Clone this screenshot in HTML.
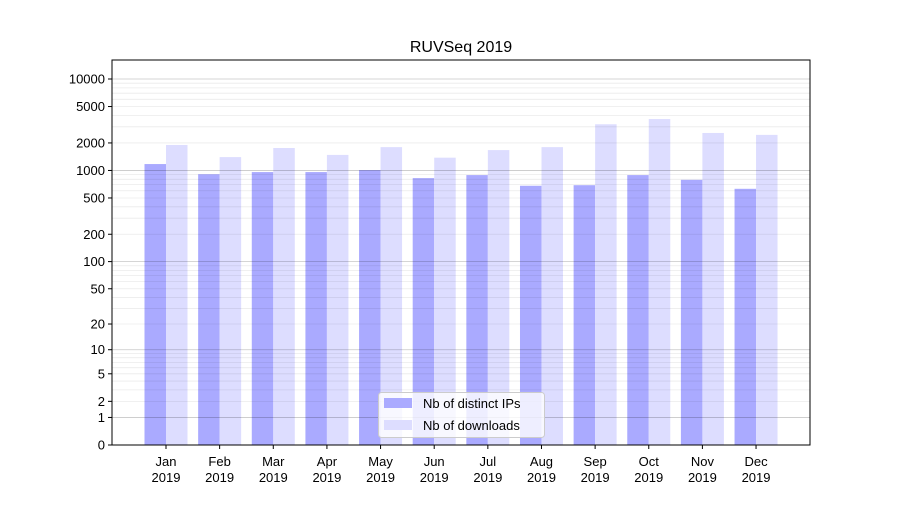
<!DOCTYPE html>
<html><head><meta charset="utf-8"><style>
body{margin:0;background:#fff;font-family:"Liberation Sans","DejaVu Sans",sans-serif}
</style></head><body>
<svg id="chart" width="900" height="500" xmlns="http://www.w3.org/2000/svg"></svg>
<script>
const categories=["Jan","Feb","Mar","Apr","May","Jun","Jul","Aug","Sep","Oct","Nov","Dec"];
const yearLabel="2019";
const distinctIPs=[1175,910,960,960,1010,825,890,680,690,890,790,630];
const downloads=[1900,1400,1760,1480,1800,1380,1670,1800,3200,3650,2570,2450];
const yTicks=[0,1,2,5,10,20,50,100,200,500,1000,2000,5000,10000];
const NS="http://www.w3.org/2000/svg";
const svg=document.getElementById('chart');
const L=112,R=810,T=60,B=445;
const yMaxLog=(B-T)/91.5;
function y(v){return B-Math.log10(1+v)/yMaxLog*(B-T);}
const step=53.64,x0=166;
function xc(i){return x0+i*step;}
function mk(tag,attrs,name,parent){const e=document.createElementNS(NS,tag);for(const k in attrs)e.setAttribute(k,attrs[k]);


(parent||svg).appendChild(e);return e;}
// bars
const bw=21.5;
categories.forEach((c,i)=>{
 mk('rect',{x:xc(i)-bw,y:y(distinctIPs[i]),width:bw,height:B-y(distinctIPs[i]),fill:'#aaaaff'},'bar-distinct-ips-'+c.toLowerCase());
 mk('rect',{x:xc(i),y:y(downloads[i]),width:bw,height:B-y(downloads[i]),fill:'#ddddff'},'bar-downloads-'+c.toLowerCase());
 mk('line',{x1:xc(i),x2:xc(i),y1:B,y2:B+4,stroke:'#000'},'x-tick');
 const t=mk('text',{x:xc(i),y:B+21,'text-anchor':'middle','font-size':13},'x-tick-label');t.textContent=c;
 const t2=mk('text',{x:xc(i),y:B+37,'text-anchor':'middle','font-size':13},'x-tick-year');t2.textContent=yearLabel;
});
// grid (over bars)
const minor=[];for(let d=1;d<=10000;d*=10)for(let m=2;m<=9;m++)if(m*d<16000)minor.push(m*d);
minor.forEach(v=>mk('line',{x1:L,x2:R,y1:y(v),y2:y(v),stroke:'rgba(0,0,0,0.08)','stroke-width':0.8},'minor-gridline'));
[1,10,100,1000,10000].forEach(v=>mk('line',{x1:L,x2:R,y1:y(v),y2:y(v),stroke:'rgba(0,0,0,0.22)','stroke-width':0.8},'major-gridline'));
yTicks.forEach(v=>{
 mk('line',{x1:L-4,x2:L,y1:y(v),y2:y(v),stroke:'#000'},'y-tick');
 const t=mk('text',{x:L-7,y:y(v)+4.5,'text-anchor':'end','font-size':13},'y-tick-label');t.textContent=v;
});
mk('rect',{x:L,y:T,width:R-L,height:B-T,fill:'none',stroke:'#000','stroke-width':1},'plot-frame');
const title=mk('text',{x:461,y:52,'text-anchor':'middle','font-size':16},'chart-title');title.textContent='RUVSeq 2019';
// legend
const lg=mk('g',{},'legend');
mk('rect',{x:378.5,y:392.5,width:166,height:45,rx:3,fill:'#fff','fill-opacity':0.8,stroke:'#ccc'},'legend-box',lg);
mk('rect',{x:384,y:398,width:28,height:10,fill:'#aaaaff'},'legend-swatch-distinct-ips',lg);
let lt=mk('text',{x:423,y:408,'font-size':13},'legend-label-distinct-ips',lg);lt.textContent='Nb of distinct IPs';
mk('rect',{x:384,y:420,width:28,height:10,fill:'#ddddff'},'legend-swatch-downloads',lg);
lt=mk('text',{x:423,y:430,'font-size':13},'legend-label-downloads',lg);lt.textContent='Nb of downloads';
</script>
</body></html>
